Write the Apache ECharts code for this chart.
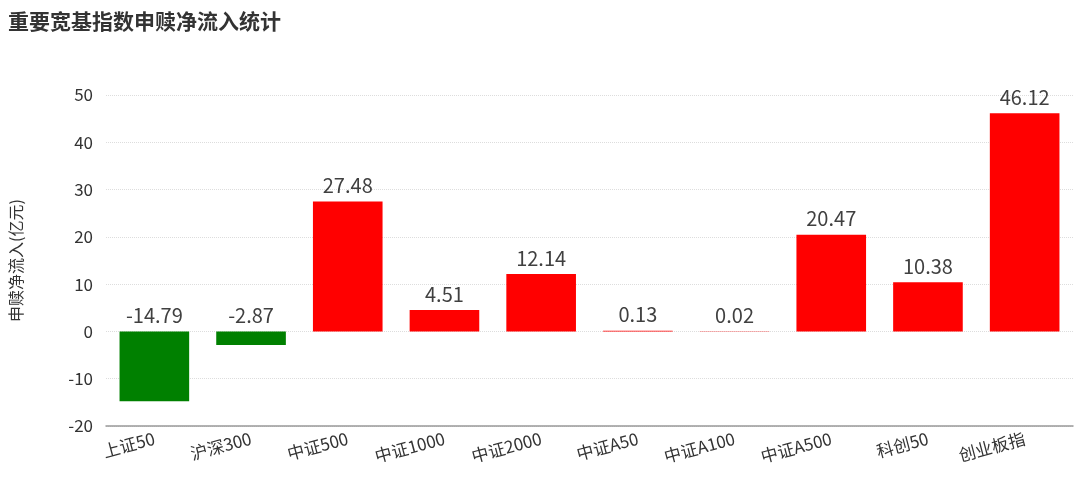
<!DOCTYPE html>
<html><head><meta charset="utf-8">
<script src="https://cdn.jsdelivr.net/npm/echarts@6/dist/echarts.min.js"></script>
<style>html,body{margin:0;padding:0;background:#fff}#c{width:1080px;height:477px}</style>
</head><body><div id="c"></div>
<script>
const categories = ['上证50','沪深300','中证500','中证1000','中证2000','中证A50','中证A100','中证A500','科创50','创业板指'];
const netInflow = [-14.79, -2.87, 27.48, 4.51, 12.14, 0.13, 0.02, 20.47, 10.38, 46.12];
const titleText = '重要宽基指数申赎净流入统计';
const yAxisName = '申赎净流入(亿元)';

const FONT = '"Noto Sans CJK SC", "Noto Sans", sans-serif';
const chart = echarts.init(document.getElementById('c'));
chart.setOption({
  animation: false,
  textStyle: { fontFamily: FONT },
  title: { text: titleText, left: 3, top: 6, textStyle: { fontSize: 21, fontWeight: 'bold', color: '#333', fontFamily: FONT } },
  grid: { left: 105, right: 7, top: 95, bottom: 51 },
  xAxis: {
    type: 'category', data: categories,
    axisLine: { onZero: false, lineStyle: { color: '#999', width: 1.5 } },
    axisTick: { length: 7, lineStyle: { color: '#999', width: 1.5 } },
    axisLabel: { rotate: 15, fontSize: 17, color: '#333', margin: 12, interval: 0 }
  },
  yAxis: {
    type: 'value', min: -20, max: 50, interval: 10,
    name: yAxisName, nameLocation: 'middle', nameGap: 82, nameRotate: 90,
    nameTextStyle: { fontSize: 16, color: '#333' },
    axisLine: { show: false }, axisTick: { show: false },
    axisLabel: { fontSize: 17, color: '#333', margin: 13 },
    splitLine: { lineStyle: { color: '#ddd', type: 'dotted' } }
  },
  series: [{
    type: 'bar', barWidth: '72%',
    data: netInflow.map(v => ({ value: v, itemStyle: { color: v < 0 ? '#008000' : '#ff0000' } })),
    label: { show: true, position: 'top', distance: 6, fontSize: 20, color: '#404040', formatter: p => p.value.toFixed(2) }
  }]
});
</script></body></html>
